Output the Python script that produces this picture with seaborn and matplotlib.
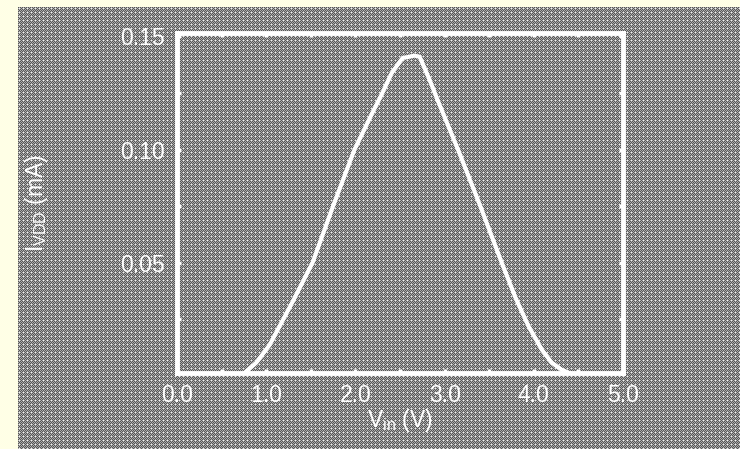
import numpy as np
import pandas as pd
import matplotlib
matplotlib.use("Agg")
import matplotlib.pyplot as plt
import seaborn as sns
from matplotlib.ticker import MultipleLocator

# supply current vs input voltage
v_in = [0.75, 0.89, 1.04, 1.13, 1.30, 1.52, 1.75, 1.99, 2.20, 2.29, 2.41,
        2.53, 2.58, 2.66, 2.72, 2.83, 2.92, 3.15, 3.40, 3.64, 3.80, 3.94,
        4.09, 4.20, 4.31, 4.41]
i_vdd = [0.001, 0.0058, 0.0137, 0.0204, 0.033, 0.050, 0.075, 0.100, 0.117,
         0.124, 0.134, 0.1405, 0.1408, 0.1415, 0.141, 0.131, 0.122, 0.100,
         0.075, 0.050, 0.034, 0.022, 0.0115, 0.0058, 0.0027, 0.001]

x_ticks = [0.0, 1.0, 2.0, 3.0, 4.0, 5.0]
y_ticks = [0.05, 0.10, 0.15]

df = pd.DataFrame({"Vin": v_in, "IVDD": i_vdd})

sns.set_style("ticks")
plt.rcParams["font.family"] = ["Liberation Sans", "DejaVu Sans"]
plt.rcParams["mathtext.fontset"] = "custom"
plt.rcParams["mathtext.rm"] = "Liberation Sans"

W, H = 740, 449
fig = plt.figure(figsize=(W / 100, H / 100), dpi=100, facecolor="#ffffe6")

# dithered gray panel behind everything
gw, gh = W - 18, H - 7
yy, xx = np.mgrid[0:gh, 0:gw]
pattern = np.where((xx + yy) % 2 == 0, 0.34, 0.68)
pattern[(xx % 4 == 1) & (yy % 4 == 1)] = 0.95
rgb = np.dstack([pattern] * 3)
fig.figimage(rgb, xo=18, yo=0, origin="upper", zorder=-10)

ax = fig.add_axes([177 / W, 1 - 373 / H, (623 - 177) / W, (373 - 33) / H])
ax.set_facecolor("none")
ax.set_zorder(5)

sns.lineplot(data=df, x="Vin", y="IVDD", ax=ax, color="white", linewidth=3.0)

ax.set_xlim(0, 5)
ax.set_ylim(0.0012, 0.1515)
ax.set_xticks(x_ticks)
ax.set_xticklabels([f"{t:.1f}" for t in x_ticks])
ax.set_yticks(y_ticks)
ax.set_yticklabels([f"{t:.2f}" for t in y_ticks])
ax.xaxis.set_minor_locator(MultipleLocator(0.5))
ax.yaxis.set_minor_locator(MultipleLocator(0.025))

for s in ax.spines.values():
    s.set_color("white")
    s.set_linewidth(3.5)

ax.tick_params(which="both", direction="in", color="white", length=3, width=2.5,
               top=True, right=True, labelcolor="white", labelsize=16.5)
ax.tick_params(axis="x", pad=8)
ax.tick_params(axis="y", pad=9)

ax.set_xlabel(r"V$_{\mathregular{in}}$ (V)", color="white", fontsize=16.5, labelpad=0)
ax.set_ylabel(r"I$_{\mathregular{VDD}}$ (mA)", color="white", fontsize=16.5, labelpad=50)

fig.savefig("out.png", dpi=100, facecolor=fig.get_facecolor())
